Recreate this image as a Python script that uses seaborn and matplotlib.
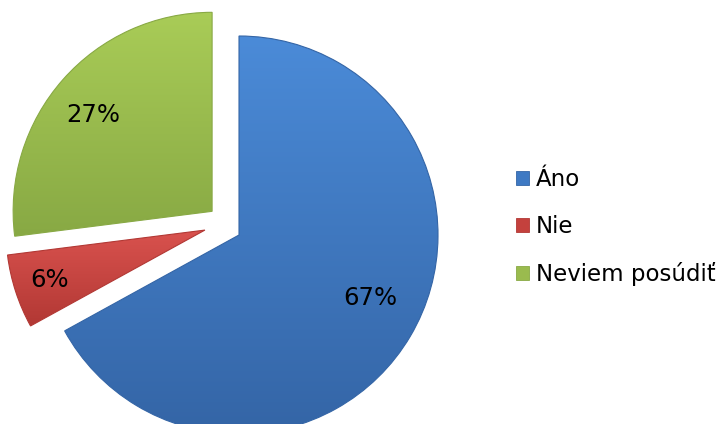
import numpy as np
import matplotlib
matplotlib.use("Agg")
import matplotlib.pyplot as plt
import seaborn as sns
from matplotlib.colors import LinearSegmentedColormap
from matplotlib.patches import Patch

categories = ["Áno", "Nie", "Neviem posúdiť"]
shares = [67, 6, 27]

sns.set_theme(style="white")
plt.rcParams["font.family"] = ["DejaVu Sans"]

# base, light (top) and dark (bottom) tones per slice
base_colors = ["#3e79c3", "#c4413d", "#9abb4e"]
light_colors = ["#4b8bd8", "#d9524e", "#a9cc57"]
dark_colors = ["#3465a6", "#b23834", "#88a944"]

# label placement per slice: radial distance (fraction of radius) and angular nudge
label_dist = [0.73, 0.82, 0.77]
label_nudge = [5.0, 0.0, 2.5]
# extra lift of the small slice above its explode line
slice_lift = [0, 16, 0]

W, H = 723, 424
R = 199
fig = plt.figure(figsize=(W / 100, H / 100), dpi=100)
ax = fig.add_axes([0, 0, 1, 1])

# pie drawn in pixel-sized data units; explode offsets are in the same units
wedges, texts, autotexts = ax.pie(
    shares,
    colors=base_colors,
    startangle=90,
    counterclock=False,
    explode=[0, 0.18 * R, 0.18 * R],
    radius=R,
    center=(239, 189),
    autopct="%1.0f%%",
    pctdistance=0.76,
    textprops={"fontsize": 17.5, "color": "black"},
    wedgeprops={"linewidth": 0},
    frame=True,
)

for w, t, d, nud, lift in zip(wedges, autotexts, label_dist, label_nudge, slice_lift):
    cx, cy = w.center
    cy += lift
    w.set_center((cx, cy))
    mid = np.deg2rad((w.theta1 + w.theta2) / 2 + nud)
    t.set_position((cx + d * R * np.cos(mid), cy + d * R * np.sin(mid)))
    t.set_zorder(3)

# vertical gradient fill clipped to each wedge
for w, lc, dc in zip(wedges, light_colors, dark_colors):
    cmap = LinearSegmentedColormap.from_list("g", [dc, lc])
    grad = np.linspace(0, 1, 256).reshape(-1, 1)
    bb = w.get_path().get_extents()
    im = ax.imshow(grad, cmap=cmap, origin="lower", aspect="auto",
                   extent=[bb.x0, bb.x1, bb.y0, bb.y1], zorder=1.5,
                   interpolation="bilinear")
    im.set_clip_path(w)
    w.set_edgecolor(dc)
    w.set_linewidth(0.8)
    w.set_zorder(1.6)
    w.set_facecolor("none")

ax.set_xlim(0, W)
ax.set_ylim(0, H)
ax.set_aspect("equal")
ax.axis("off")

handles = [Patch(facecolor=c, edgecolor=d, linewidth=0.6)
           for c, d in zip(base_colors, dark_colors)]
leg = ax.legend(handles, categories, loc="center left",
                bbox_to_anchor=(505 / W, 1 - 227 / H),
                bbox_transform=fig.transFigure,
                frameon=False, fontsize=16.5, handlelength=0.55,
                handleheight=0.55, handletextpad=0.3, labelspacing=1.05,
                borderpad=0)
for t in leg.get_texts():
    t.set_color("black")

fig.savefig("out.png", dpi=100)
